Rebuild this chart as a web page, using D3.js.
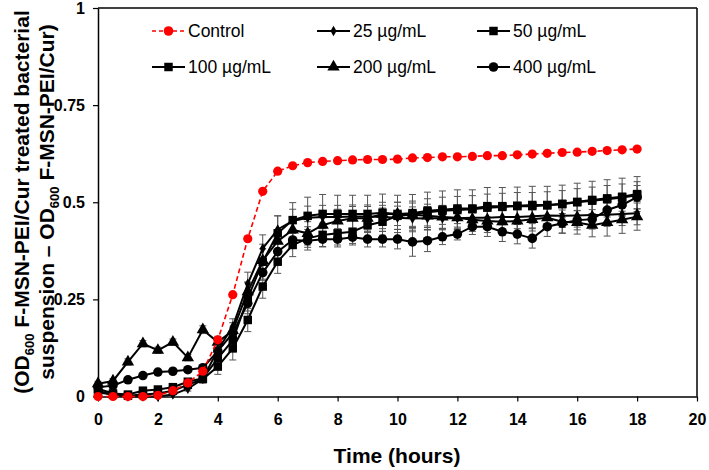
<!DOCTYPE html>
<html><head><meta charset="utf-8">
<script src="https://cdn.jsdelivr.net/npm/d3@7"></script>
<style>
body{margin:0;background:#fff}
svg{display:block}
text{font-family:"Liberation Sans",Arial,sans-serif}
</style>
</head><body>
<svg id="c" width="709" height="470"></svg>
<script>
const times = [0,0.5,1,1.5,2,2.5,3,3.5,4,4.5,5,5.5,6,6.5,7,7.5,8,8.5,9,9.5,10,10.5,11,11.5,12,12.5,13,13.5,14,14.5,15,15.5,16,16.5,17,17.5,18];

const control = [0,0,0,0,0.003,0.015,0.035,0.065,0.146,0.262,0.406,0.528,0.58,0.594,0.602,0.605,0.607,0.609,0.61,0.61,0.611,0.614,0.615,0.617,0.617,0.618,0.62,0.62,0.622,0.624,0.626,0.628,0.629,0.631,0.633,0.635,0.637];
const c25 = [0.015,0.004,0,0,0,0.005,0.02,0.045,0.12,0.18,0.29,0.381,0.43,0.452,0.46,0.462,0.462,0.463,0.463,0.462,0.46,0.458,0.459,0.459,0.459,0.46,0.46,0.462,0.462,0.464,0.466,0.465,0.466,0.467,0.468,0.47,0.472];
const c50 = [0.02,0.008,0.005,0.015,0.018,0.024,0.038,0.047,0.098,0.145,0.253,0.347,0.42,0.454,0.465,0.47,0.47,0.47,0.47,0.473,0.47,0.472,0.478,0.481,0.484,0.484,0.49,0.49,0.491,0.493,0.493,0.496,0.501,0.506,0.51,0.514,0.521];
const c100 = [0.01,0.005,0.002,0.005,0.008,0.015,0.03,0.045,0.077,0.124,0.197,0.283,0.347,0.39,0.407,0.416,0.42,0.424,0.441,0.45,0.465,0.468,0.474,0.478,0.48,0.482,0.486,0.488,0.49,0.49,0.492,0.495,0.5,0.504,0.508,0.512,0.518];
const c200 = [0.033,0.04,0.089,0.136,0.119,0.14,0.1,0.172,0.14,0.17,0.27,0.35,0.4,0.429,0.42,0.441,0.452,0.459,0.459,0.47,0.47,0.468,0.465,0.462,0.46,0.455,0.452,0.45,0.452,0.456,0.46,0.45,0.448,0.441,0.448,0.455,0.463];
const c400 = [0.024,0.028,0.043,0.054,0.063,0.065,0.069,0.074,0.117,0.163,0.24,0.319,0.373,0.403,0.401,0.405,0.405,0.41,0.405,0.405,0.405,0.398,0.401,0.411,0.418,0.437,0.437,0.424,0.418,0.407,0.437,0.446,0.454,0.456,0.48,0.493,0.513];

const e25 = [0.005,0.004,0.003,0.003,0.003,0.004,0.006,0.008,0.015,0.02,0.03,0.035,0.035,0.03,0.03,0.03,0.03,0.03,0.03,0.03,0.03,0.03,0.03,0.03,0.03,0.03,0.03,0.03,0.03,0.03,0.03,0.03,0.03,0.03,0.03,0.03,0.03];
const e50 = [0.006,0.005,0.004,0.006,0.006,0.006,0.008,0.01,0.02,0.03,0.04,0.045,0.045,0.045,0.048,0.05,0.048,0.048,0.048,0.048,0.048,0.048,0.048,0.048,0.048,0.048,0.048,0.048,0.048,0.048,0.048,0.048,0.048,0.048,0.048,0.048,0.045];
const e100 = [0.005,0.004,0.004,0.005,0.005,0.006,0.008,0.01,0.02,0.03,0.03,0.03,0.03,0.03,0.03,0.03,0.03,0.03,0.035,0.035,0.035,0.035,0.035,0.035,0.035,0.035,0.035,0.035,0.035,0.035,0.035,0.035,0.035,0.035,0.035,0.035,0.035];
const e200 = [0.006,0.006,0.008,0.008,0.008,0.008,0.008,0.01,0.015,0.02,0.025,0.03,0.03,0.03,0.03,0.03,0.03,0.03,0.03,0.03,0.03,0.03,0.03,0.03,0.03,0.03,0.03,0.03,0.03,0.03,0.03,0.03,0.03,0.03,0.035,0.035,0.035];
const e400 = [0.005,0.005,0.005,0.005,0.005,0.005,0.005,0.006,0.01,0.015,0.02,0.02,0.02,0.02,0.017,0.02,0.02,0.02,0.02,0.02,0.025,0.037,0.028,0.02,0.015,0.02,0.025,0.025,0.025,0.025,0.025,0.025,0.025,0.025,0.03,0.03,0.03];

const xTicks = [0,2,4,6,8,10,12,14,16,18,20];
const yTicks = [0,0.25,0.5,0.75,1];
const yTickLabels = ["0","0.25","0.5","0.75","1"];

const seriesNames = ["Control","25 µg/mL","50 µg/mL","100 µg/mL","200 µg/mL","400 µg/mL"];

const svg = d3.select("#c");
const x = d3.scaleLinear([0,20],[98,697]);
const y = d3.scaleLinear([0,1],[396.5,8]);

// frame top/right
svg.append("line").attr("x1",x(0)).attr("x2",x(20)).attr("y1",y(1)).attr("y2",y(1)).attr("stroke","#000").attr("stroke-width",1.5);
svg.append("line").attr("x1",x(20)).attr("x2",x(20)).attr("y1",y(1)).attr("y2",y(0)).attr("stroke","#000").attr("stroke-width",1.5);

const gx = svg.append("g").attr("transform",`translate(0,${y(0)})`)
  .call(d3.axisBottom(x).tickValues(xTicks).tickSize(5).tickSizeOuter(0).tickPadding(12).tickFormat(d3.format("d")));
const gy = svg.append("g").attr("transform",`translate(${x(0)},0)`)
  .call(d3.axisLeft(y).tickValues(yTicks).tickSize(5).tickSizeOuter(0).tickPadding(8).tickFormat((d,i)=>yTickLabels[i]));
[gx,gy].forEach(g=>{
  g.select(".domain").attr("stroke","#000").attr("stroke-width",1.5);
  g.selectAll(".tick line").attr("stroke","#000").attr("stroke-width",1.2);
  g.selectAll(".tick text").attr("font-size",16).attr("font-weight","bold").attr("fill","#000")
    .attr("font-family",'"Liberation Sans",Arial,sans-serif');
});

// axis titles
svg.append("text").attr("x",397).attr("y",463).attr("text-anchor","middle")
  .attr("font-size",21).attr("font-weight","bold").text("Time (hours)");

const yt = svg.append("text").attr("transform","translate(29,202) rotate(-90)")
  .attr("text-anchor","middle").attr("font-size",21).attr("font-weight","bold");
const l1 = yt.append("tspan").attr("x",0).attr("y",0);
l1.append("tspan").text("(OD");
l1.append("tspan").attr("font-size",13).attr("dy",5).text("600");
l1.append("tspan").attr("dy",-5).text(" F-MSN-PEI/Cur treated bacterial");
const l2 = yt.append("tspan").attr("x",0).attr("y",25);
l2.append("tspan").text("suspension – OD");
l2.append("tspan").attr("font-size",13).attr("dy",5).text("600");
l2.append("tspan").attr("dy",-5).text(" F-MSN-PEI/Cur)");

// marker symbols
const sym = {
  circle: d3.symbol().type(d3.symbolCircle).size(72),
  square: d3.symbol().type(d3.symbolSquare).size(72),
  tri: d3.symbol().type(d3.symbolTriangle).size(66),
  diamond: d3.symbol().type(d3.symbolDiamond).size(32)
};

const blackSeries = [
  {name:seriesNames[1], v:c25, e:e25, m:"diamond"},
  {name:seriesNames[2], v:c50, e:e50, m:"square"},
  {name:seriesNames[3], v:c100, e:e100, m:"square"},
  {name:seriesNames[4], v:c200, e:e200, m:"tri"},
  {name:seriesNames[5], v:c400, e:e400, m:"circle"}
];

const line = d3.line().x(d=>x(d[0])).y(d=>y(d[1]));

// error bars
const eg = svg.append("g").attr("stroke","#555").attr("stroke-width",1);
blackSeries.forEach(s=>{
  times.forEach((t,i)=>{
    const cx = x(t), y1 = y(s.v[i]+s.e[i]), y2 = y(Math.max(0,s.v[i]-s.e[i]));
    eg.append("line").attr("x1",cx).attr("x2",cx).attr("y1",y1).attr("y2",y2);
    eg.append("line").attr("x1",cx-3.5).attr("x2",cx+3.5).attr("y1",y1).attr("y2",y1);
    eg.append("line").attr("x1",cx-3.5).attr("x2",cx+3.5).attr("y1",y2).attr("y2",y2);
  });
});

// black lines & markers
blackSeries.forEach(s=>{
  const pts = times.map((t,i)=>[t,s.v[i]]);
  svg.append("path").datum(pts).attr("d",line).attr("fill","none").attr("stroke","#000").attr("stroke-width",2);
  svg.append("g").selectAll("path").data(pts).join("path")
    .attr("transform",d=>`translate(${x(d[0])},${y(d[1])})`)
    .attr("d",sym[s.m]).attr("fill","#000");
});

// control
const cpts = times.map((t,i)=>[t,control[i]]);
svg.append("path").datum(cpts).attr("d",line).attr("fill","none").attr("stroke","#ff0000")
  .attr("stroke-width",1.6).attr("stroke-dasharray","5,3");
svg.append("g").selectAll("circle").data(cpts).join("circle")
  .attr("cx",d=>x(d[0])).attr("cy",d=>y(d[1])).attr("r",4.6).attr("fill","#ff0000");

// legend
const leg = [
  {name:seriesNames[0], x:152, y:31, m:"circle", red:true},
  {name:seriesNames[1], x:317, y:31, m:"diamond"},
  {name:seriesNames[2], x:477, y:31, m:"square"},
  {name:seriesNames[3], x:152, y:67, m:"square"},
  {name:seriesNames[4], x:317, y:67, m:"tri"},
  {name:seriesNames[5], x:477, y:67, m:"circle"}
];
leg.forEach(l=>{
  const g = svg.append("g").attr("transform",`translate(${l.x},${l.y})`);
  g.append("line").attr("x1",0).attr("x2",33).attr("y1",0).attr("y2",0)
    .attr("stroke",l.red?"#ff0000":"#000").attr("stroke-width",l.red?1.6:2)
    .attr("stroke-dasharray",l.red?"4,3":null);
  g.append("path").attr("transform","translate(16.5,0)").attr("d",sym[l.m]).attr("fill",l.red?"#ff0000":"#000");
  g.append("text").attr("x",36).attr("y",0).attr("dy","0.35em").attr("font-size",17.5).attr("fill","#000").text(l.name);
});
</script>
</body></html>
